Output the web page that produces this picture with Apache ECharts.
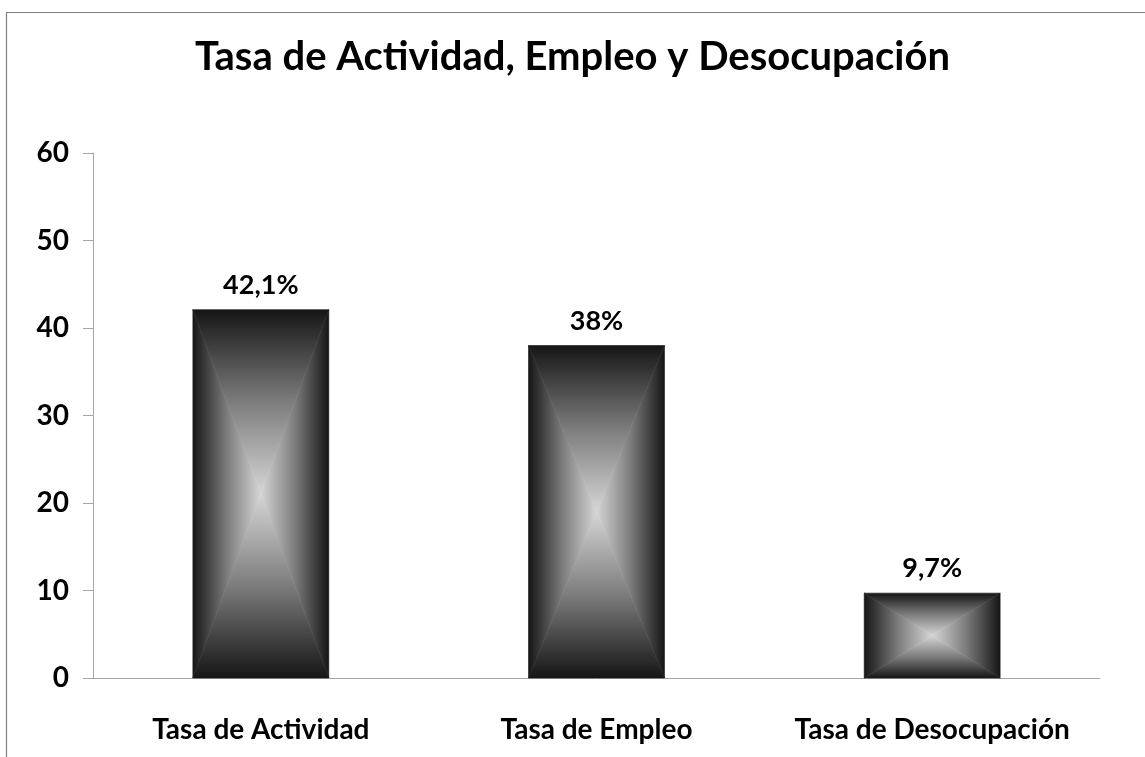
<!DOCTYPE html>
<html>
<head>
<meta charset="utf-8">
<script src="https://cdn.jsdelivr.net/npm/echarts@6/dist/echarts.min.js"></script>
<style>
  html, body { margin: 0; padding: 0; background: #fff; }
  #chart { width: 1145px; height: 757px; }
</style>
</head>
<body>
<div id="chart"></div>
<script>
// datos
const categorias = ['Tasa de Actividad', 'Tasa de Empleo', 'Tasa de Desocupación']
const valores = [42.1, 38, 9.7]
const etiquetas = ['42,1%', '38%', '9,7%']
const ejeY = { min: 0, max: 60, interval: 10 }

const FONT = 'Lato, "Open Sans", sans-serif'

// degradado rectangular desde el centro (oscuro en bordes, claro en el centro)
const grad = (x0, y0, x1, y1) => new echarts.graphic.LinearGradient(x0, y0, x1, y1, [
  { offset: 0, color: '#151515' },
  { offset: 0.5, color: '#7c7c7c' },
  { offset: 1, color: '#d6d6d6' },
])

const renderBar = (params, api) => {
  const idx = api.value(0)
  const v = api.value(1)
  const base = api.coord([idx, 0])
  const top = api.coord([idx, v])
  const bw = api.size([1, 0])[0] * 0.405
  const x0 = base[0] - bw / 2
  const x1 = base[0] + bw / 2
  const y0 = top[1]
  const y1 = base[1]
  const cx = base[0]
  const cy = (y0 + y1) / 2

  const tri = (points, fill) => ({
    type: 'polygon',
    shape: { points },
    style: { fill, stroke: fill, lineWidth: 0.6 },
  })

  return {
    type: 'group',
    children: [
      tri([[x0, y0], [x1, y0], [cx, cy]], grad(0, 0, 0, 1)),
      tri([[x0, y1], [x1, y1], [cx, cy]], grad(0, 1, 0, 0)),
      tri([[x0, y0], [x0, y1], [cx, cy]], grad(0, 0, 1, 0)),
      tri([[x1, y0], [x1, y1], [cx, cy]], grad(1, 0, 0, 0)),
      {
        type: 'text',
        style: {
          text: etiquetas[params.dataIndex],
          x: cx,
          y: y0 - 11,
          align: 'center',
          verticalAlign: 'bottom',
          fill: '#000',
          font: `bold 27px ${FONT}`,
        },
      },
    ],
  }
}

const chart = echarts.init(document.getElementById('chart'))

chart.setOption({
  backgroundColor: '#fff',
  animation: false,
  title: {
    text: 'Tasa de Actividad, Empleo y Desocupación',
    left: 'center',
    top: 32,
    textStyle: { fontFamily: FONT, fontWeight: 'bold', fontSize: 40, color: '#000' },
  },
  graphic: [
    {
      type: 'rect',
      shape: { x: 6.5, y: 12.5, width: 1300, height: 900 },
      style: { fill: 'none', stroke: '#808080', lineWidth: 1.2 },
      silent: true,
      z: -1,
    },
  ],
  grid: { left: 93, right: 45, top: 153, bottom: 79 },
  xAxis: {
    type: 'category',
    data: categorias,
    axisLine: { lineStyle: { color: '#a6a6a6', width: 1 } },
    axisTick: { length: 10, lineStyle: { color: '#a6a6a6' } },
    axisLabel: {
      margin: 38,
      color: '#000',
      fontFamily: FONT,
      fontWeight: 'bold',
      fontSize: 28,
      interval: 0,
    },
  },
  yAxis: {
    type: 'value',
    min: ejeY.min,
    max: ejeY.max,
    interval: ejeY.interval,
    axisLine: { show: true, lineStyle: { color: '#a6a6a6', width: 1 } },
    axisTick: { show: true, length: 10, lineStyle: { color: '#a6a6a6' } },
    splitLine: { show: false },
    axisLabel: {
      margin: 24,
      color: '#000',
      fontFamily: FONT,
      fontWeight: 'bold',
      fontSize: 28,
    },
  },
  series: [
    {
      type: 'custom',
      renderItem: renderBar,
      data: valores.map((v, i) => [i, v]),
      encode: { x: 0, y: 1 },
    },
  ],
})
</script>
</body>
</html>
